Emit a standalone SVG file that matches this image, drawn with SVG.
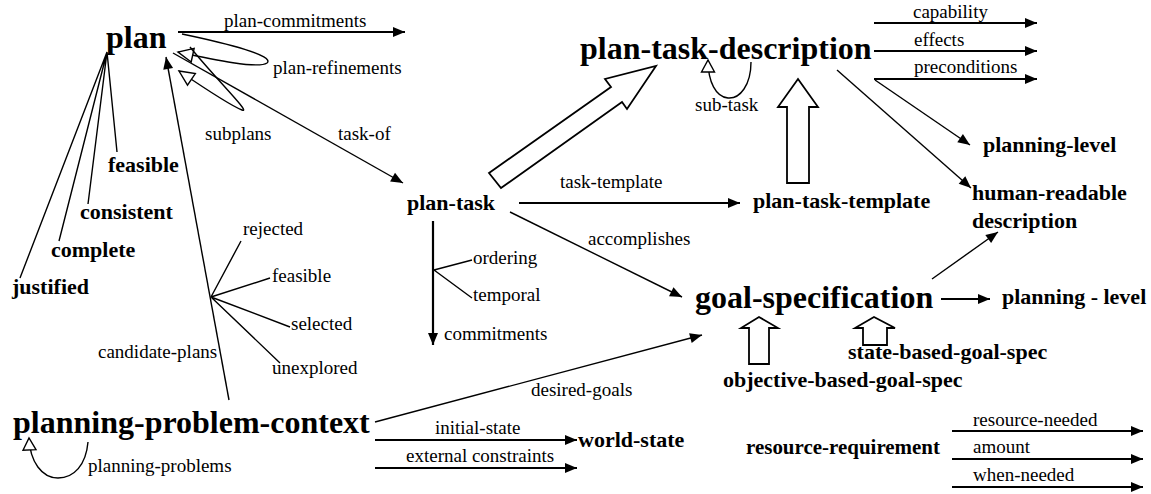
<svg xmlns="http://www.w3.org/2000/svg" width="1151" height="494" viewBox="0 0 1151 494" font-family="Liberation Serif">
<style>
text{font-family:"Liberation Serif","Times New Roman",serif;fill:#000}
.lbl{font-size:19px}
.b{font-size:22px;font-weight:bold}
.big{font-size:32px;font-weight:bold}
.thick{stroke:#000;stroke-width:2.2;fill:none}
.thin{stroke:#000;stroke-width:1.4;fill:none}
.fat{stroke:#000;stroke-width:1.8;fill:#fff;stroke-linejoin:miter}
</style>
<defs>
<marker id="ah" markerUnits="userSpaceOnUse" markerWidth="14" markerHeight="12" refX="12" refY="5" orient="auto" overflow="visible">
<path d="M0,0 L12,5 L0,10 z" fill="#000"/>
</marker>
<marker id="oh" markerUnits="userSpaceOnUse" markerWidth="16" markerHeight="16" refX="12" refY="6.5" orient="auto" overflow="visible">
<path d="M0,0 L12,6.5 L0,13 z" fill="#fff" stroke="#000" stroke-width="1.4"/>
</marker>
<marker id="ohl" markerUnits="userSpaceOnUse" markerWidth="18" markerHeight="16" refX="15" refY="7" orient="auto" overflow="visible">
<path d="M0,0 L15,7 L0,14 z" fill="#fff" stroke="#000" stroke-width="1.4"/>
</marker>
</defs>

<g id="connectors">
<path class="thick" d="M178,32 H405" marker-end="url(#ah)"/>
<path class="thick" d="M874,23 H1037" marker-end="url(#ah)"/>
<path class="thick" d="M874,51 H1037" marker-end="url(#ah)"/>
<path class="thick" d="M874,79 H1037" marker-end="url(#ah)"/>
<path class="thick" d="M519,203 H740" marker-end="url(#ah)"/>
<path class="thick" d="M433,221 V345" marker-end="url(#ah)"/>
<path class="thick" d="M375,440 H577" marker-end="url(#ah)"/>
<path class="thick" d="M375,468 H577" marker-end="url(#ah)"/>
<path class="thick" d="M941,299 H990" marker-end="url(#ah)"/>
<path class="thick" d="M952,431 H1143" marker-end="url(#ah)"/>
<path class="thick" d="M952,459 H1143" marker-end="url(#ah)"/>
<path class="thick" d="M952,487 H1143" marker-end="url(#ah)"/>

<path class="thin" d="M107,52 L117,152 M107,52 L88,204 M107,52 L59,241 M107,52 L20,278"/>
<path class="thin" d="M229,400 L166,57" marker-end="url(#ah)"/>
<path class="thin" d="M211,297 L241,241 M211,297 L270,278 M211,297 L290,327 M211,297 L280,363"/>
<path class="thin" d="M434,270 L472,260 M434,270 L472,298"/>
<path class="thin" d="M173,53 L403,183" marker-end="url(#ah)"/>
<path class="thin" d="M510,212 L682,297" marker-end="url(#ah)"/>
<path class="thin" d="M375,422 L702,335" marker-end="url(#ah)"/>
<path class="thin" d="M932,279 L998,232" marker-end="url(#ah)"/>
<path class="thin" d="M875,80 L970,145" marker-end="url(#ah)"/>
<path class="thin" d="M837,70 L971,188" marker-end="url(#ah)"/>

<path class="thin" d="M182,34 C230,44 275,56 267,63 C258,69 215,60 178,52" marker-end="url(#ohl)"/>
<path class="thin" d="M190,47 C215,78 252,114 242,110 C234,107 210,92 179,71" marker-end="url(#ohl)"/>
<path class="thin" d="M751,62 C751,85 740,99 728,98 C716,97 708,82 708,60" marker-end="url(#oh)"/>
<path class="thin" d="M88,442 C86,465 74,478 58,478 C42,478 30,462 29,438" marker-end="url(#oh)"/>

<polygon class="fat" points="489,173 611,87 605,79 656,66 627,109 622,102 501,188"/>
<polygon class="fat" points="787,183 787,107 778,107 798,79 818,107 809,107 809,183"/>
<polygon class="fat" points="749,364 749,328 741,328 759,317 778,328 769,328 769,364"/>
<polygon class="fat" points="863,345 863,328 855,328 874,317 895,328 887,328 887,345"/>

<text class="lbl" x="224" y="27">plan-commitments</text>
<text class="lbl" x="273" y="74">plan-refinements</text>
<text class="lbl" x="205" y="140">subplans</text>
<text class="lbl" x="338" y="140">task-of</text>
<text class="lbl" x="560" y="188">task-template</text>
<text class="lbl" x="588" y="245">accomplishes</text>
<text class="lbl" x="473" y="264">ordering</text>
<text class="lbl" x="473" y="301">temporal</text>
<text class="lbl" x="444" y="340">commitments</text>
<text class="lbl" x="243" y="235">rejected</text>
<text class="lbl" x="272" y="282">feasible</text>
<text class="lbl" x="291" y="330">selected</text>
<text class="lbl" x="272" y="374">unexplored</text>
<text class="lbl" x="98" y="358">candidate-plans</text>
<text class="lbl" x="88" y="472">planning-problems</text>
<text class="lbl" x="531" y="396">desired-goals</text>
<text class="lbl" x="435" y="434">initial-state</text>
<text class="lbl" x="406" y="462">external constraints</text>
<text class="lbl" x="913" y="18">capability</text>
<text class="lbl" x="914" y="46">effects</text>
<text class="lbl" x="914" y="73">preconditions</text>
<text class="lbl" x="695" y="111">sub-task</text>
<text class="lbl" x="973" y="426">resource-needed</text>
<text class="lbl" x="973" y="453">amount</text>
<text class="lbl" x="973" y="481">when-needed</text>
</g>

<g id="plan"><text class="big" x="106" y="48">plan</text></g>
<g id="feasible"><text class="b" x="108" y="172">feasible</text></g>
<g id="consistent"><text class="b" x="80" y="219">consistent</text></g>
<g id="complete"><text class="b" x="51" y="257">complete</text></g>
<g id="justified"><text class="b" x="12" y="294">justified</text></g>
<g id="planning-problem-context"><text class="big" x="13" y="433">planning-problem-context</text></g>
<g id="world-state"><text class="b" x="578" y="447">world-state</text></g>
<g id="plan-task"><text class="b" x="407" y="210">plan-task</text></g>
<g id="plan-task-description"><text class="big" x="580" y="59">plan-task-description</text></g>
<g id="plan-task-template"><text class="b" x="753" y="208">plan-task-template</text></g>
<g id="planning-level"><text class="b" x="983" y="152">planning-level</text></g>
<g id="human-readable-description"><text class="b" x="972" y="200">human-readable</text><text class="b" x="972" y="228">description</text></g>
<g id="goal-specification"><text class="big" x="695" y="308">goal-specification</text></g>
<g id="planning-level-2"><text class="b" x="1002" y="304">planning - level</text></g>
<g id="state-based-goal-spec"><text class="b" x="848" y="359">state-based-goal-spec</text></g>
<g id="objective-based-goal-spec"><text class="b" x="723" y="387">objective-based-goal-spec</text></g>
<g id="resource-requirement"><text class="b" x="746" y="454" textLength="194" lengthAdjust="spacingAndGlyphs">resource-requirement</text></g>
</svg>
